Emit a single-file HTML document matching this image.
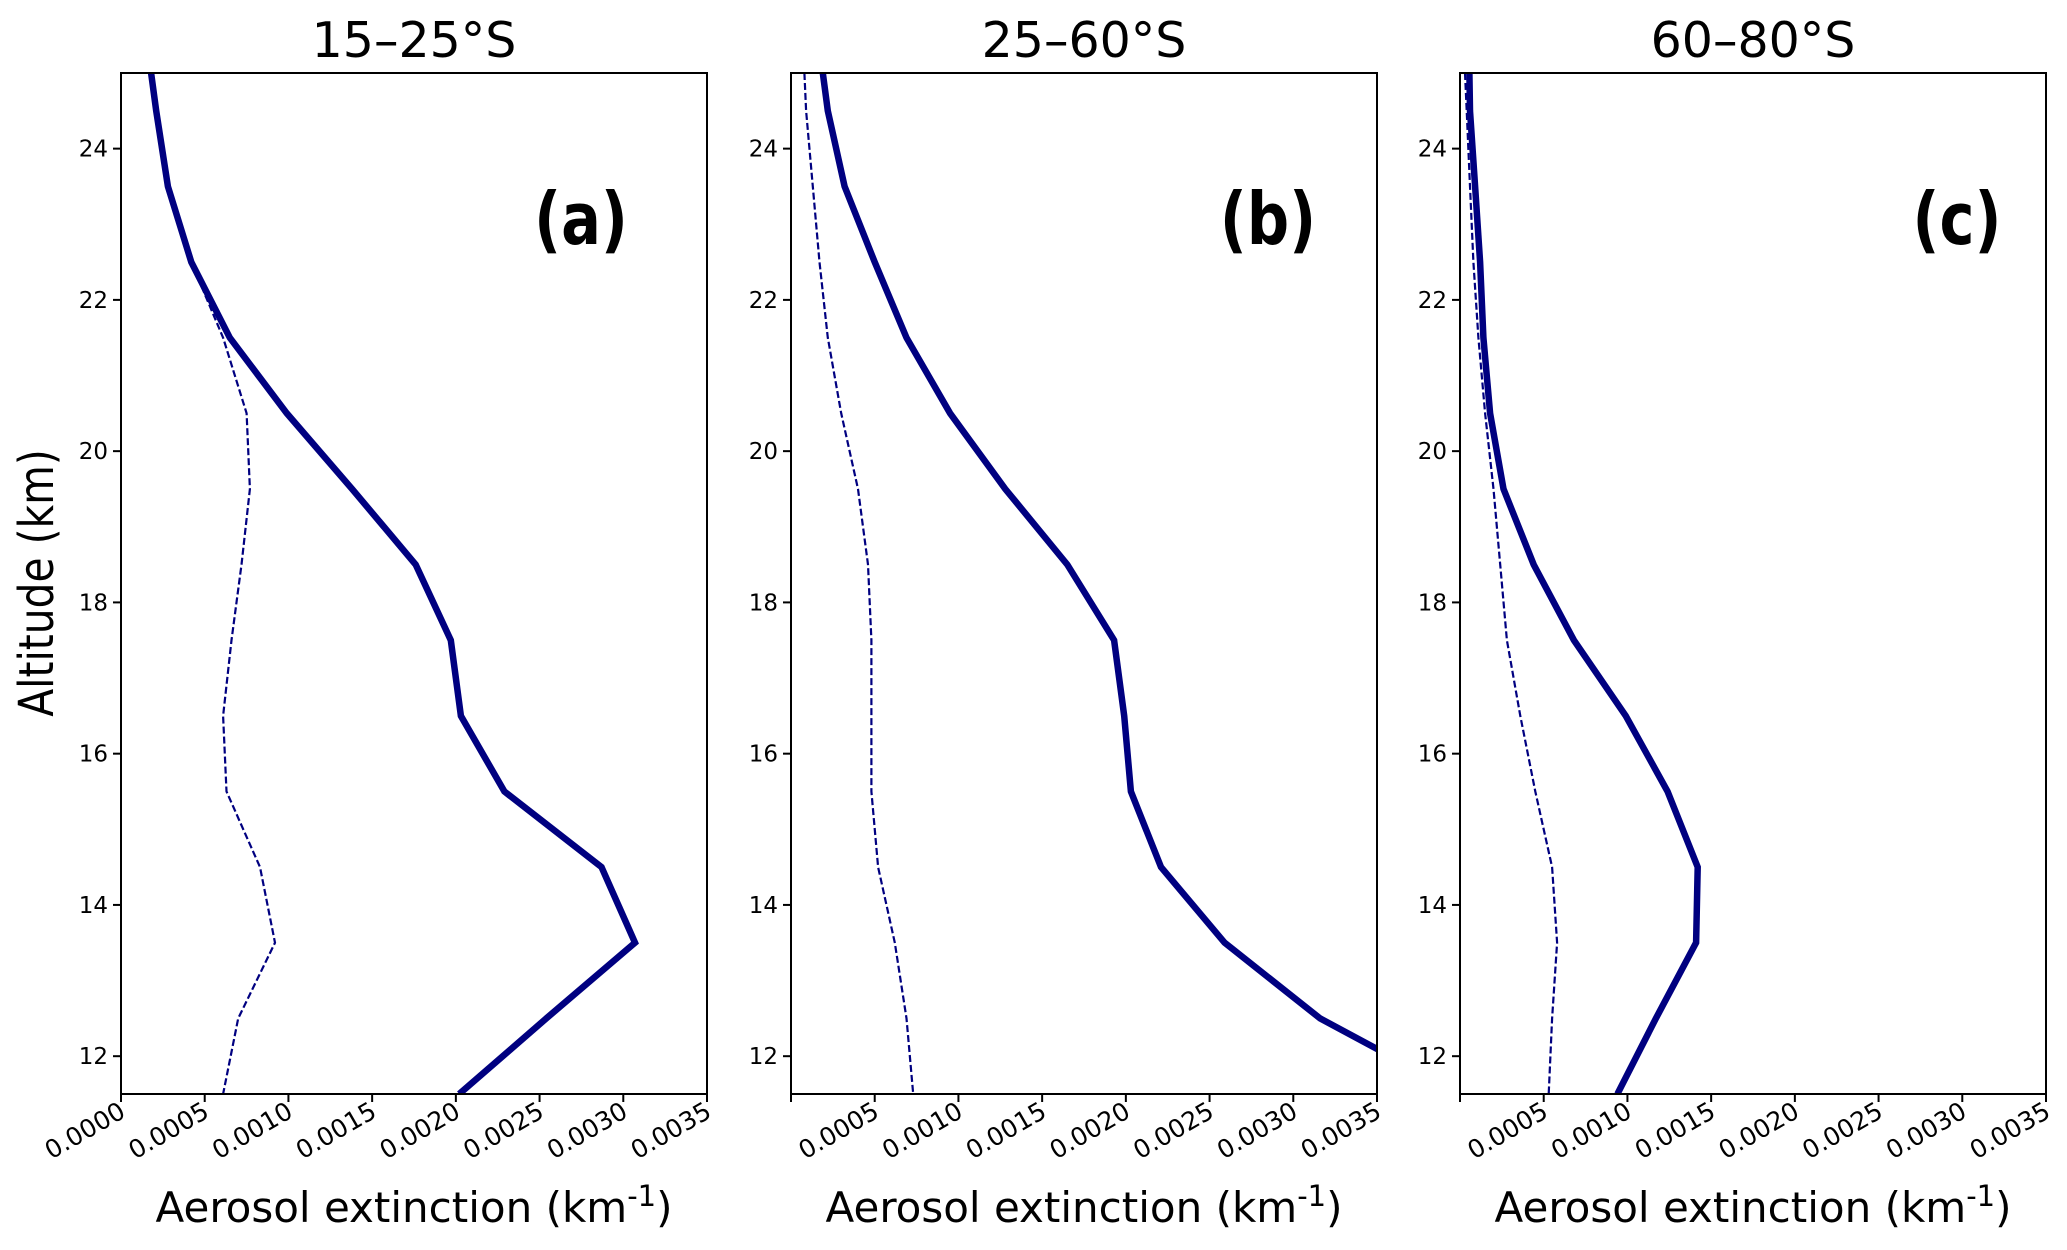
<!DOCTYPE html>
<html><head><meta charset="utf-8"><style>
html,body{margin:0;padding:0;background:#fff;}
svg{display:block;font-family:"DejaVu Sans","Liberation Sans",sans-serif;}
</style></head><body>
<svg id="chart" width="2067" height="1250" viewBox="0 0 2067 1250" xmlns="http://www.w3.org/2000/svg">
<rect width="2067" height="1250" fill="#fff"/>
<text transform="translate(53,583) rotate(-90) scale(0.85,1)" text-anchor="middle" font-size="48" fill="#000">Altitude (km)</text>
</svg>
<script>
const altitudes = [25, 24.5, 23.5, 22.5, 21.5, 20.5, 19.5, 18.5, 17.5, 16.5, 15.5, 14.5, 13.5, 12.5, 11.5];
const titles = ["15–25°S", "25–60°S", "60–80°S"];
const panelLabels = ["(a)", "(b)", "(c)"];
const solidA = [0.00018,0.00021,0.00028,0.00042,0.00065,0.00099,0.00138,0.00176,0.00197,0.00203,0.00229,0.00287,0.00307,0.00254,0.00202];
const dashedA = [0.00018,0.00021,0.00028,0.00042,0.00061,0.00075,0.00077,0.00072,0.00066,0.00061,0.00063,0.00083,0.00092,0.00070,0.00061];
const solidB = [0.00019,0.00022,0.00032,0.00050,0.00069,0.00095,0.00128,0.00165,0.00193,0.00199,0.00203,0.00221,0.00259,0.00316,0.00400];
const dashedB = [0.00008,0.00009,0.00013,0.00017,0.00022,0.00030,0.00040,0.00046,0.00048,0.00048,0.00048,0.00052,0.00062,0.00069,0.00073];
const solidC = [0.000056,0.00006,0.00009,0.00012,0.00014,0.00018,0.00026,0.00044,0.00068,0.00099,0.00124,0.00142,0.00141,0.00117,0.00094];
const dashedC = [0.00003,0.00004,0.00006,0.00008,0.00011,0.00015,0.00020,0.00024,0.00028,0.00036,0.00045,0.00055,0.00058,0.00055,0.00053];
const xTickValues = [0,0.0005,0.001,0.0015,0.002,0.0025,0.003,0.0035];
const xTickLabels = ["0.0000","0.0005","0.0010","0.0015","0.0020","0.0025","0.0030","0.0035"];
const yTickValues = [12,14,16,18,20,22,24];
const solidSeries = [solidA, solidB, solidC];
const dashedSeries = [dashedA, dashedB, dashedC];

const NS = "http://www.w3.org/2000/svg";
const svg = document.getElementById("chart");
const lefts = [121, 791, 1460];
const labelCenters = [581, 1268, 1957];
const W = 586, TOP = 73, BOT = 1094;
const XMIN = 0, XMAX = 0.0035, YMIN = 11.5, YMAX = 25;
function mk(tag, attrs, parent){const e=document.createElementNS(NS,tag);for(const k in attrs)e.setAttribute(k,attrs[k]);(parent||svg).appendChild(e);return e;}
function yScale(v){return BOT-(v-YMIN)/(YMAX-YMIN)*(BOT-TOP);}

for(let p=0;p<3;p++){
  const L = lefts[p];
  const xScale = v => L+(v-XMIN)/(XMAX-XMIN)*W;
  const g = mk("g",{});
  
  
  const cp = mk("clipPath",{id:"clip"+p},g);
  mk("rect",{x:L,y:TOP,width:W,height:BOT-TOP},cp);
  const ptsD = altitudes.map((a,i)=>xScale(dashedSeries[p][i]).toFixed(1)+","+yScale(a).toFixed(1)).join(" ");
  const dl = mk("polyline",{points:ptsD,fill:"none",stroke:"#000080","stroke-width":2.2,"stroke-dasharray":"7,3","clip-path":"url(#clip"+p+")"},g);
  
  
  const ptsS = altitudes.map((a,i)=>xScale(solidSeries[p][i]).toFixed(1)+","+yScale(a).toFixed(1)).join(" ");
  const sl = mk("polyline",{points:ptsS,fill:"none",stroke:"#000080","stroke-width":6.5,"stroke-linejoin":"miter","clip-path":"url(#clip"+p+")"},g);
  
  
  const fr = mk("rect",{x:L,y:TOP,width:W,height:BOT-TOP,fill:"none",stroke:"#000","stroke-width":2},g);
  
  
  yTickValues.forEach(v=>{
    const y=yScale(v);
    mk("line",{x1:L-8,x2:L,y1:y,y2:y,stroke:"#000","stroke-width":2},g);
    const t=mk("text",{x:L-13,y:y+8,"text-anchor":"end","font-size":23,fill:"#000"},g);
    t.textContent=v;
    
    
  });
  xTickValues.forEach((v,i)=>{
    const x=xScale(v);
    mk("line",{x1:x,x2:x,y1:BOT,y2:BOT+8,stroke:"#000","stroke-width":2},g);
    if(p>0 && i===0) return;
    const t=mk("text",{transform:"translate("+(x+6)+","+(BOT+22)+") rotate(-30)","text-anchor":"end","font-size":25,fill:"#000"},g);
    t.textContent=xTickLabels[i];
    
    
  });
  const title=mk("text",{x:L+W/2,y:57,"text-anchor":"middle","font-size":49,fill:"#000"},g);
  title.textContent=titles[p];
  
  
  const pl=mk("text",{transform:"translate("+labelCenters[p]+",244) scale(0.82,1)","text-anchor":"middle","font-size":72,"font-weight":"bold",fill:"#000"},g);
  pl.textContent=panelLabels[p];
  
  
  const xl=mk("text",{x:L+W/2,y:1222,"text-anchor":"middle","font-size":42,fill:"#000"},g);
  xl.innerHTML='Aerosol extinction (km<tspan dy="-16" font-size="29">-1</tspan><tspan dy="16">)</tspan>';
  
  
}
</script>
</body></html>
